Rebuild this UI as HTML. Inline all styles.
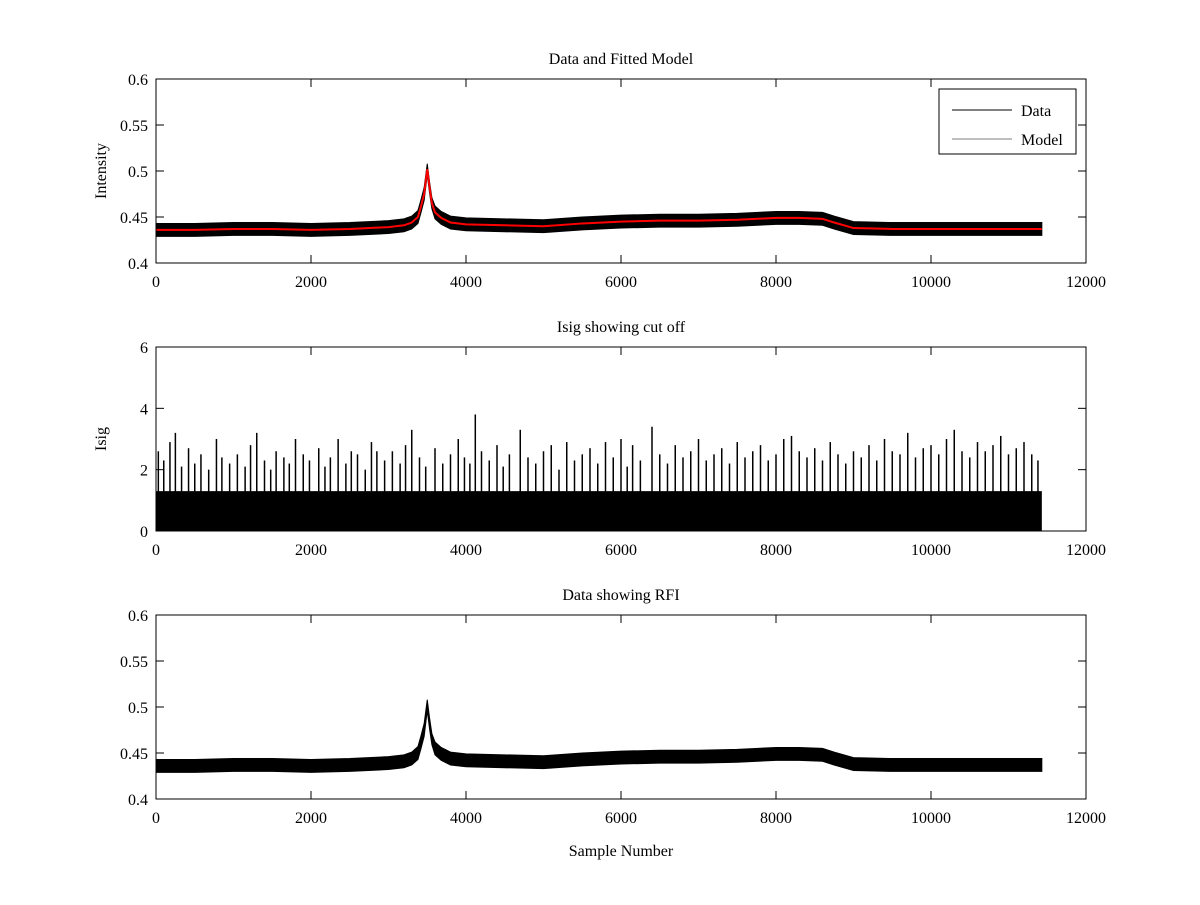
<!DOCTYPE html>
<html><head><meta charset="utf-8"><style>
body{margin:0;background:#fff;}
svg text{font-family:"Liberation Serif",serif;fill:#000;}
</style></head><body>
<svg id="fig" width="1200" height="900" xmlns="http://www.w3.org/2000/svg"></svg>
<script>
// Intensity data: sample positions, centre level, noise half-width
const samples=[0,500,1000,1500,2000,2500,3000,3200,3300,3380,3420,3460,3500,3530,3560,3600,3680,3800,4000,4500,5000,5500,6000,6500,7000,7500,8000,8300,8600,8750,9000,9500,10000,10500,11000,11430];
const center=[0.436,0.436,0.437,0.437,0.436,0.437,0.439,0.441,0.444,0.450,0.462,0.475,0.502,0.482,0.465,0.455,0.449,0.444,0.442,0.441,0.440,0.443,0.445,0.446,0.446,0.447,0.449,0.449,0.448,0.444,0.438,0.437,0.437,0.437,0.437,0.437];
const noise=[0.007,0.007,0.007,0.007,0.007,0.007,0.007,0.007,0.007,0.007,0.007,0.007,0.006,0.006,0.006,0.007,0.007,0.007,0.007,0.007,0.007,0.007,0.007,0.007,0.007,0.007,0.007,0.007,0.007,0.007,0.007,0.007,0.007,0.007,0.007,0.007];
// Isig: base band level and spikes
const isigBase=[1.3];
const spikeX=[30,100,180,250,330,420,500,580,680,780,850,950,1050,1150,1220,1300,1400,1480,1550,1650,1720,1800,1900,1980,2100,2180,2250,2350,2450,2520,2600,2700,2780,2850,2950,3050,3150,3220,3300,3400,3480,3600,3700,3800,3900,3980,4050,4120,4200,4300,4400,4480,4560,4700,4800,4900,5000,5100,5200,5300,5400,5500,5600,5700,5800,5900,6000,6080,6150,6250,6400,6500,6600,6700,6800,6900,7000,7100,7200,7300,7400,7500,7600,7700,7800,7900,8000,8100,8200,8300,8400,8500,8600,8700,8800,8900,9000,9100,9200,9300,9400,9500,9600,9700,9800,9900,10000,10100,10200,10300,10400,10500,10600,10700,10800,10900,11000,11100,11200,11300,11380];
const spikeY=[2.6,2.3,2.9,3.2,2.1,2.7,2.2,2.5,2.0,3.0,2.4,2.2,2.5,2.1,2.8,3.2,2.3,2.0,2.6,2.4,2.2,3.0,2.5,2.3,2.7,2.1,2.4,3.0,2.2,2.6,2.5,2.0,2.9,2.6,2.3,2.6,2.2,2.8,3.3,2.4,2.1,2.7,2.2,2.5,3.0,2.4,2.2,3.8,2.6,2.3,2.8,2.1,2.5,3.3,2.4,2.2,2.6,2.8,2.0,2.9,2.3,2.5,2.7,2.2,2.9,2.4,3.0,2.1,2.8,2.3,3.4,2.5,2.2,2.8,2.4,2.6,3.0,2.3,2.5,2.7,2.2,2.9,2.4,2.6,2.8,2.3,2.5,3.0,3.1,2.6,2.4,2.7,2.3,2.9,2.5,2.2,2.6,2.4,2.8,2.3,3.0,2.6,2.5,3.2,2.4,2.7,2.8,2.5,3.0,3.3,2.6,2.4,2.9,2.6,2.8,3.1,2.5,2.7,2.9,2.5,2.3];
const xTicks=[0,2000,4000,6000,8000,10000,12000];
const intTicks=[0.4,0.45,0.5,0.55,0.6];
const isigTicks=[0,2,4,6];

const NS="http://www.w3.org/2000/svg";
const svg=document.getElementById('fig');
function mk(tag,attrs,parent){const e=document.createElementNS(NS,tag);for(const k in attrs)e.setAttribute(k,attrs[k]);(parent||svg).appendChild(e);return e;}
const L=156,R=1086;
const xs=v=>L+(v/12000)*(R-L);
function axes(top,bot,ymin,ymax,yt,title,ylabel,name){
  const g=mk('g',{});
  
  
  const ys=v=>bot-(v-ymin)/(ymax-ymin)*(bot-top);
  const plot=mk('g',{},g);
  
  
  const frame=mk('rect',{x:L,y:top,width:R-L,height:bot-top,fill:'none',stroke:'#000','stroke-width':1},g);
  
  
  xTicks.forEach(t=>{const x=xs(t);
    mk('line',{x1:x,x2:x,y1:bot,y2:bot-8,stroke:'#000'},g);mk('line',{x1:x,x2:x,y1:top,y2:top+8,stroke:'#000'},g);
    const tx=mk('text',{x:x,y:bot+24,'text-anchor':'middle','font-size':16},g);tx.textContent=t;
    
    });
  yt.forEach(t=>{const y=ys(t);
    mk('line',{x1:L,x2:L+8,y1:y,y2:y,stroke:'#000'},g);mk('line',{x1:R,x2:R-8,y1:y,y2:y,stroke:'#000'},g);
    const tx=mk('text',{x:L-8,y:y+6,'text-anchor':'end','font-size':16},g);tx.textContent=t;
    
    });
  const ti=mk('text',{x:(L+R)/2,y:top-15,'text-anchor':'middle','font-size':16},g);ti.textContent=title;
  
  
  if(ylabel){const yl=mk('text',{x:0,y:0,'text-anchor':'middle','font-size':16,transform:`translate(106,${(top+bot)/2}) rotate(-90)`},g);yl.textContent=ylabel;
    
    }
  return {plot,ys};
}
function band(plot,ys,name){
  let up=samples.map((s,i)=>`${xs(s)},${ys(center[i]+noise[i])}`);
  let dn=samples.map((s,i)=>`${xs(s)},${ys(center[i]-noise[i])}`).reverse();
  const p=mk('polygon',{points:up.concat(dn).join(' '),fill:'#000',stroke:'#000','stroke-width':1},plot);
  
  
}
// Top
const a1=axes(79,263,0.4,0.6,intTicks,'Data and Fitted Model','Intensity','top-panel');
band(a1.plot,a1.ys,'data-series');
const ml=mk('polyline',{points:samples.map((s,i)=>`${xs(s)},${a1.ys(center[i])}`).join(' '),fill:'none',stroke:'#ff0000','stroke-width':2},a1.plot);


const lg=mk('g',{});


mk('rect',{x:939,y:89,width:137,height:65,fill:'#fff',stroke:'#000'},lg);
mk('line',{x1:952,x2:1012,y1:110,y2:110,stroke:'#000'},lg);
mk('line',{x1:952,x2:1012,y1:139,y2:139,stroke:'#000','stroke-width':0.6},lg);
const l1=mk('text',{x:1021,y:116,'font-size':16},lg);l1.textContent='Data';


const l2=mk('text',{x:1021,y:145,'font-size':16},lg);l2.textContent='Model';


// Middle
const a2=axes(347,531,0,6,isigTicks,'Isig showing cut off','Isig','middle-panel');
const bb=mk('rect',{x:xs(0),y:a2.ys(isigBase[0]),width:xs(11430)-xs(0),height:a2.ys(0)-a2.ys(isigBase[0]),fill:'#000'},a2.plot);


spikeX.forEach((s,i)=>{
  const ln=mk('line',{x1:xs(s),x2:xs(s),y1:a2.ys(0),y2:a2.ys(spikeY[i]),stroke:'#000','stroke-width':1.5},a2.plot);
  
  
});
// Bottom
const a3=axes(615,799,0.4,0.6,intTicks,'Data showing RFI','','bottom-panel');
band(a3.plot,a3.ys,'rfi-data-series');
const xl=mk('text',{x:(L+R)/2,y:856,'text-anchor':'middle','font-size':16});xl.textContent='Sample Number';


</script>
</body></html>
